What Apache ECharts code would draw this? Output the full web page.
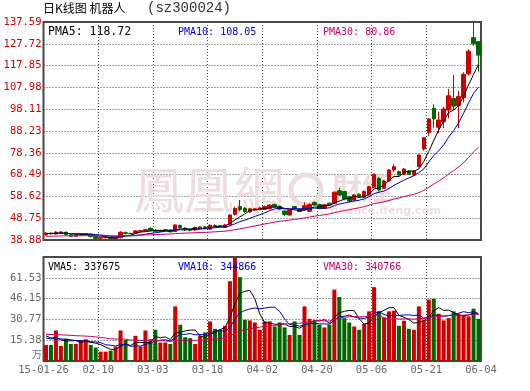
<!DOCTYPE html>
<html>
<head>
<meta charset="utf-8">
<script src="https://cdn.jsdelivr.net/npm/echarts@6/dist/echarts.min.js"></script>
<style>
html,body{margin:0;padding:0;background:#fff;}
#c{width:530px;height:391px;}
</style>
</head>
<body>
<div id="c"></div>
<script>
// ---- data ----
var xTickLabels = ['15-01-26','02-10','03-03','03-18','04-02','04-20','05-06','05-21','06-04'];
var priceTickLabels = ['38.88','48.75','58.62','68.49','78.36','88.23','98.11','107.98','117.85','127.72','137.59'];
var volTickLabels = ['', '15.38', '30.77', '46.15', '61.53', ''];

var opens  = [41.2,42.0,41.6,42.2,42.4,41.2,40.6,41.2,41.4,41.5,40.4,39.7,39.9,40.1,39.5,39.9,42.2,41.9,41.9,42.8,
              43.0,44.2,43.3,42.8,43.1,43.4,42.7,45.4,44.3,43.5,43.4,44.4,44.8,43.8,45.5,45.3,44.6,45.8,50.5,54.0,
              53.2,51.6,52.4,52.8,52.8,53.0,55.0,54.1,52.0,50.2,54.0,52.9,52.5,51.9,55.9,55.0,53.2,55.5,55.5,61.2,
              60.8,58.5,57.0,59.6,58.3,59.3,62.6,66.8,62.3,65.6,70.6,69.8,68.6,70.1,68.3,72.1,80.1,87.5,98.5,89.9,
              92.4,97.7,102.9,99.8,103.3,114.1,130.5,128.7];
var closes = [42.0,41.7,42.4,42.5,41.3,40.6,41.3,41.5,41.7,40.4,39.6,40.0,40.2,39.5,39.8,42.4,41.9,41.8,43.0,43.1,
              43.6,43.2,42.8,43.2,43.5,42.6,45.7,44.4,43.4,43.3,44.5,44.8,44.6,45.6,45.3,45.1,45.7,50.2,53.2,52.6,
              51.8,53.0,53.0,53.4,54.0,54.7,53.9,52.9,50.4,52.5,53.0,51.8,54.4,55.0,54.7,53.2,54.8,54.7,60.5,59.2,
              57.7,56.5,59.3,58.3,60.8,63.0,68.6,61.5,65.6,70.6,72.1,68.3,71.0,68.6,70.1,77.4,85.2,93.7,93.7,93.2,
              98.2,104.2,99.5,103.8,113.9,124.4,127.7,122.6];
var lows   = [40.9,41.3,41.3,41.8,41.0,40.2,40.3,40.9,41.0,40.1,39.2,39.4,39.6,39.2,39.1,39.7,41.4,41.6,41.6,42.5,
              42.6,42.9,42.4,42.5,42.8,42.3,42.5,44.1,43.0,42.8,43.2,44.0,44.2,43.6,44.8,44.7,44.4,45.6,50.0,51.8,
              51.2,51.2,52.0,52.4,52.5,52.7,53.5,52.5,49.7,49.9,52.7,51.5,52.2,51.7,54.4,52.8,53.0,54.3,55.3,58.8,
              57.3,56.0,56.7,58.0,58.0,59.0,62.4,61.0,62.0,65.3,69.6,68.0,68.3,68.3,68.0,71.8,79.3,86.1,89.7,87.2,
              89.5,94.0,97.7,89.5,101.2,113.5,126.9,115.1];
var highs  = [42.4,42.3,42.9,42.9,42.6,41.4,41.6,41.9,42.0,41.7,40.6,40.3,40.5,40.3,40.1,42.8,42.7,42.1,43.4,43.5,
              43.9,44.6,43.8,43.6,43.9,43.7,46.0,45.9,44.6,43.9,44.9,45.1,45.2,45.9,46.0,45.6,46.0,50.5,54.0,57.0,
              53.8,53.5,53.4,54.0,54.5,55.0,55.3,54.5,52.3,52.8,54.3,53.3,56.0,55.4,56.3,55.3,55.2,55.9,60.9,62.5,
              61.1,58.8,59.7,60.0,61.2,63.4,69.0,67.3,66.0,71.0,73.2,70.3,71.5,70.5,70.5,77.7,85.5,94.0,100.3,97.0,
              99.2,107.3,113.6,106.3,114.8,125.2,137.5,128.7];
// volume in 万 (10k)
var volumes = [11.9,11.9,22.6,11.2,16.4,12.6,12.6,15.6,16.1,11.9,9.9,6.9,6.9,7.7,10.7,22.6,15.6,0.7,18.6,10.7,
               22.6,16.1,23.1,13.6,13.6,12.6,40.4,26.8,17.6,16.9,12.6,18.6,21.1,29.3,23.8,23.1,26.0,59.0,80.0,62.0,
               30.5,30.0,28.5,23.1,29.3,29.3,25.5,28.5,24.8,19.3,29.3,19.3,40.4,31.2,29.8,26.8,24.8,26.8,52.8,47.4,
               31.7,28.5,25.5,23.1,27.5,36.7,54.6,36.7,32.2,36.7,37.2,26.0,29.8,23.8,23.1,40.4,30.5,45.4,46.1,35.0,
               30.0,31.7,36.7,35.0,34.0,33.0,38.7,31.2];
var pricePrior = [41.8, 41.8, 40.5];
var volPrior = [20.3, 17.5, 20.1];

function ma(arr, n, prior) {
  return arr.map(function (_, i) {
    var s = 0;
    for (var k = i - n + 1; k <= i; k++) s += (k >= 0 ? arr[k] : prior);
    return +(s / n).toFixed(3);
  });
}

var RED = '#cc0000', GREEN = '#006600', BLUE = '#0000a8', MAG = '#cc0066';
var cats = closes.map(function (_, i) { return i; });
var kdata = closes.map(function (c, i) { return [opens[i], c, lows[i], highs[i]]; });
var volData = volumes.map(function (v, i) {
  return { value: v, itemStyle: { color: closes[i] >= opens[i] ? RED : GREEN } };
});

var MONO = '"DejaVu Sans Mono", "Liberation Mono", monospace';
var gridDot = { color: '#444', width: 1, type: [1, 2] };
var WM = '#eedddd';

var chart = echarts.init(document.getElementById('c'), null, { renderer: 'canvas' });

function txt(x, y, s, color, size, align, family) {
  return { type: 'text', x: x, y: y, silent: true, z: 50,
    style: { text: s, fill: color, font: (size || 10) + 'px ' + (family || MONO),
             align: align || 'left', verticalAlign: 'middle' } };
}

var option = {
  animation: false,
  backgroundColor: '#fff',
  grid: [
    { left: 43.5, right: 49, top: 22, height: 218, show: true, borderColor: '#4a4a4a', borderWidth: 2, backgroundColor: 'transparent' },
    { left: 43.5, right: 49, top: 257, height: 104, show: true, borderColor: '#4a4a4a', borderWidth: 2, backgroundColor: 'transparent' }
  ],
  xAxis: [
    { type: 'category', gridIndex: 0, data: cats, position: 'top', show: false, boundaryGap: true },
    { type: 'value', gridIndex: 0, min: 0, max: 8, interval: 1, position: 'bottom',
      axisLine: { show: false }, axisTick: { show: false }, axisLabel: { show: false },
      splitLine: { show: true, lineStyle: gridDot } },
    { type: 'category', gridIndex: 1, data: cats, position: 'top', show: false, boundaryGap: true },
    { type: 'value', gridIndex: 1, min: 0, max: 8, interval: 1, position: 'bottom',
      axisLine: { show: false }, axisTick: { show: false },
      axisLabel: { show: true, margin: 4, color: '#666', fontFamily: MONO, fontSize: 10.5,
        showMinLabel: true, showMaxLabel: true,
        formatter: function (v) { return xTickLabels[Math.round(v)] || ''; } },
      splitLine: { show: true, lineStyle: gridDot } }
  ],
  yAxis: [
    { type: 'value', gridIndex: 0, min: 38.88, max: 137.59, interval: 9.871,
      axisLine: { show: false }, axisTick: { show: false },
      axisLabel: { margin: 2, color: RED, fontFamily: MONO, fontSize: 10.5, showMinLabel: true, showMaxLabel: true,
        formatter: function (v) { return priceTickLabels[Math.round((v - 38.88) / 9.871)] || ''; } },
      splitLine: { show: true, lineStyle: gridDot } },
    { type: 'value', gridIndex: 1, min: 0, max: 76.92, interval: 15.384,
      axisLine: { show: false }, axisTick: { show: false },
      axisLabel: { margin: 2, color: '#666', fontFamily: MONO, fontSize: 10.5, showMaxLabel: false,
        formatter: function (v) { return volTickLabels[Math.round(v / 15.384)] || ''; } },
      splitLine: { show: true, lineStyle: gridDot } }
  ],
  series: [
    { type: 'candlestick', xAxisIndex: 0, yAxisIndex: 0, data: kdata, barWidth: 4, z: 5,
      itemStyle: { color: RED, color0: GREEN, borderColor: RED, borderColor0: GREEN, borderWidth: 1 } },
    { type: 'line', xAxisIndex: 0, yAxisIndex: 0, data: ma(closes, 5, pricePrior[0]), showSymbol: false, z: 6,
      lineStyle: { color: '#000', width: 1 } },
    { type: 'line', xAxisIndex: 0, yAxisIndex: 0, data: ma(closes, 10, pricePrior[1]), showSymbol: false, z: 6,
      lineStyle: { color: BLUE, width: 1 } },
    { type: 'line', xAxisIndex: 0, yAxisIndex: 0, data: ma(closes, 30, pricePrior[2]), showSymbol: false, z: 6,
      lineStyle: { color: MAG, width: 1 } },
    { type: 'bar', xAxisIndex: 2, yAxisIndex: 1, data: volData, barWidth: 4, z: 5 },
    { type: 'line', xAxisIndex: 2, yAxisIndex: 1, data: ma(volumes, 5, volPrior[0]), showSymbol: false, z: 6,
      lineStyle: { color: '#000', width: 1 } },
    { type: 'line', xAxisIndex: 2, yAxisIndex: 1, data: ma(volumes, 10, volPrior[1]), showSymbol: false, z: 6,
      lineStyle: { color: BLUE, width: 1 } },
    { type: 'line', xAxisIndex: 2, yAxisIndex: 1, data: ma(volumes, 30, volPrior[2]), showSymbol: false, z: 6,
      lineStyle: { color: MAG, width: 1 } }
  ],
  graphic: [
    // faint watermark
    { type: 'text', x: 134, y: 190, silent: true, z: 1,
      style: { text: '鳳凰網', fill: WM, font: '50px "Noto Sans CJK TC", sans-serif', verticalAlign: 'middle' } },
    { type: 'circle', silent: true, z: 1, shape: { cx: 306, cy: 190, r: 15 },
      style: { fill: 'none', stroke: WM, lineWidth: 5 } },
    { type: 'text', x: 332, y: 188, silent: true, z: 1,
      style: { text: '財經', fill: WM, font: 'bold 30px "Noto Sans CJK TC", sans-serif', verticalAlign: 'middle' } },
    { type: 'text', x: 330, y: 211, silent: true, z: 1,
      style: { text: 'finance.ifeng.com', fill: WM, font: 'bold 11px "DejaVu Sans", sans-serif', verticalAlign: 'middle' } },
    // title
    txt(43, 8, '日K线图 机器人', '#000', 12, 'left', '"Noto Sans CJK SC", sans-serif'),
    txt(147, 8, '(sz300024)', '#333', 14, 'left', '"Liberation Mono", monospace'),
    // legends
    txt(48, 32, 'PMA5: 118.72', '#000', 11.5),
    txt(178, 32, 'PMA10: 108.05', '#0000cc', 10),
    txt(323, 32, 'PMA30: 80.86', MAG, 10),
    txt(48, 267, 'VMA5: 337675', '#000', 10),
    txt(178, 267, 'VMA10: 344866', '#0000cc', 10),
    txt(323, 267, 'VMA30: 340766', MAG, 10),
    txt(42, 354, '万', '#666', 10, 'right', '"Noto Sans CJK SC", sans-serif')
  ]
};
chart.setOption(option);
</script>
</body>
</html>
